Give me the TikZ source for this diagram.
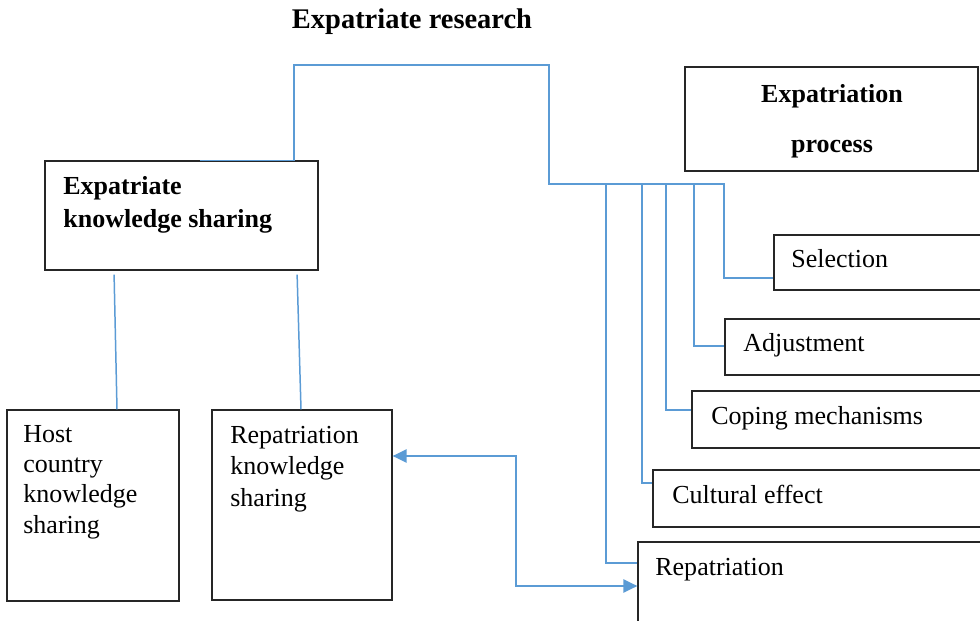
\documentclass[tikz,border=0pt]{standalone}
\usepackage{fontspec}
\setmainfont{Liberation Serif}
\usetikzlibrary{arrows.meta,fit,calc}
\definecolor{linkblue}{HTML}{5B9BD5}
\begin{document}
\begin{tikzpicture}[x=0.02cm,y=-0.02cm,
  box/.style={draw=black!85, line width=0.75pt, inner sep=0pt},
  % multi-line labels are placed by the baseline of their last line
  lbl/.style={inner sep=0pt, anchor=base west, align=left,
    font=\fontsize{14.8pt}{17.1pt}\selectfont},
  conn/.style={draw=linkblue, line width=0.85pt},
  tipboth/.style={{Triangle[length=8pt,width=7.6pt]}-{Triangle[length=8pt,width=7.6pt]}}
]
\clip (0,0) rectangle (980,621);

% title
\node[inner sep=0pt, anchor=base, font=\fontsize{16.2pt}{19pt}\selectfont\bfseries] (title) at (412,29) {Expatriate research};

% boxes
\node[box, fit={(685,67) (978,171)}] (proc) {};
\node[box, fit={(45,161) (318,270)}] (eks) {};
\node[box, fit={(7,410) (179,601)}] (host) {};
\node[box, fit={(212,410) (392,600)}] (rks) {};
\node[box, fit={(774,235) (990,290)}] (sel) {};
\node[box, fit={(725,319) (990,375)}] (adj) {};
\node[box, fit={(692,391) (990,448)}] (cop) {};
\node[box, fit={(653,470) (990,527)}] (cul) {};
\node[box, fit={(638,542) (990,640)}] (rep) {};

% box texts
\node[inner sep=0pt, anchor=base, align=center,
  font=\fontsize{14.8pt}{29pt}\selectfont\bfseries] (proc-t) at (832,153) {Expatriation\\process};
\node[lbl, font=\fontsize{14.8pt}{18.8pt}\selectfont\bfseries] (eks-t) at (63,228) {Expatriate\\knowledge sharing};
\node[lbl] (host-t) at (23,533) {Host\\country\\knowledge\\sharing};
\node[lbl, font=\fontsize{14.8pt}{17.8pt}\selectfont] (rks-t) at (230,506) {Repatriation\\knowledge\\sharing};
\node[lbl] (sel-t) at (791,268) {Selection};
\node[lbl] (adj-t) at (743,352) {Adjustment};
\node[lbl] (cop-t) at (711,424) {Coping mechanisms};
\node[lbl] (cul-t) at (672,503) {Cultural effect};
\node[lbl] (rep-t) at (655,575) {Repatriation};

% connectors
\draw[conn] (200,0 |- eks.north) -- (294,0 |- eks.north) -- (294,65) -- (549,65)
  -- (549,184) -- (724,184) |- (sel.west |- 0,278);
\draw[conn] (694,184) |- (adj.west |- 0,346);
\draw[conn] (666,184) |- (cop.west |- 0,410);
\draw[conn] (642,184) |- (cul.west |- 0,483);
\draw[conn] (606,184) |- (rep.west |- 0,563);

\draw[conn, shorten <=0.08cm] (eks.south -| 114,0) -- (host.north -| 117,0);
\draw[conn, shorten <=0.08cm] (eks.south -| 297,0) -- (rks.north -| 301,0);

\draw[conn, tipboth] (rks.east |- 0,456) -- (516,456) |- (rep.west |- 0,586);
\end{tikzpicture}
\end{document}
